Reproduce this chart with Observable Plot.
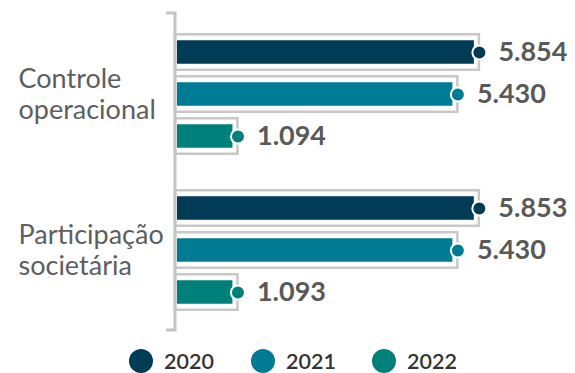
<!DOCTYPE html>
<html>
<head>
<meta charset="utf-8">
<script src="https://cdn.jsdelivr.net/npm/d3@7"></script>
<script src="https://cdn.jsdelivr.net/npm/@observablehq/plot@0.6"></script>
<style>
  html, body { margin: 0; padding: 0; background: #fff; }
  #chart { width: 575px; font-family: Lato, sans-serif; }
  .legend { position: relative; height: 33px; }
  .legend .item { position: absolute; top: 9px; height: 24px; display: flex; align-items: center; }
  .legend .sw { width: 24px; height: 24px; border-radius: 50%; margin-right: 11px; }
  .legend .lab { font-size: 21.5px; line-height: 24px; font-weight: 600; color: #333; }
</style>
</head>
<body>
<div id="chart"></div>
<script>
const groups = ["Controle operacional", "Participação societária"];
const groupLabels = ["Controle\noperacional", "Participação\nsocietária"];
const years = ["2020", "2021", "2022"];
const colors = ["#023b56", "#007b94", "#00807a"];
const controle = [5854, 5430, 1094];
const participacao = [5853, 5430, 1093];

const series = [controle, participacao];
const rows = [];
groups.forEach((g, gi) => years.forEach((y, yi) => rows.push({group: g, year: y, value: series[gi][yi]})));
const fmt = v => v.toLocaleString("pt-BR");

const plot = Plot.plot({
  width: 575,
  height: 340,
  marginTop: 13,
  marginBottom: 10,
  marginLeft: 177,
  marginRight: 43,
  style: {fontFamily: "Lato, sans-serif"},
  x: {domain: [0, 7000], axis: null},
  y: {domain: years, padding: 0, axis: null},
  fy: {domain: groups, paddingInner: 0.183, paddingOuter: 0.1075, axis: null},
  color: {domain: years, range: colors},
  marks: [
    Plot.barX(rows, {x: "value", y: "year", fy: "group", fill: "none", stroke: "#c8c8c8", strokeWidth: 2.5,
      insetTop: 3.25, insetBottom: 3.25, insetLeft: -2, insetRight: -5}),
    Plot.barX(rows, {x: "value", y: "year", fy: "group", fill: "year", insetTop: 9.25, insetBottom: 9.25}),
    Plot.dot(rows, {x: "value", y: "year", fy: "group", fill: "year", r: 7, stroke: "white", strokeWidth: 2, dx: 5}),
    Plot.text(rows, {x: "value", y: "year", fy: "group", text: d => fmt(d.value), dx: 24, textAnchor: "start",
      fontSize: 27, fontWeight: "bold", fill: "#595959"}),
    Plot.text(groups, {fy: d => d, text: (d, i) => groupLabels[groups.indexOf(d)], frameAnchor: "left", dx: -159,
      textAnchor: "start", lineAnchor: "middle", lineHeight: 1.15, fontSize: 27, fill: "#5e5e5e"})
  ]
});

// bracket-style axis line along the facet range
const fyR = plot.scale("fy").range;
const x0 = plot.scale("x").apply(0) - 2;
d3.select(plot).append("path")
  .attr("d", `M${x0 - 9},${fyR[0]}H${x0}V${fyR[1]}H${x0 - 9}`)
  .attr("fill", "none").attr("stroke", "#c4c4c4").attr("stroke-width", 3);

document.getElementById("chart").appendChild(plot);

const legend = document.createElement("div");
legend.className = "legend";
const lefts = [129, 251, 372];
years.forEach((y, i) => {
  const it = document.createElement("div");
  it.className = "item";
  it.style.left = lefts[i] + "px";
  it.innerHTML = `<span class="sw" style="background:${colors[i]}"></span><span class="lab">${y}</span>`;
  legend.appendChild(it);
});
document.getElementById("chart").appendChild(legend);
</script>
</body>
</html>
